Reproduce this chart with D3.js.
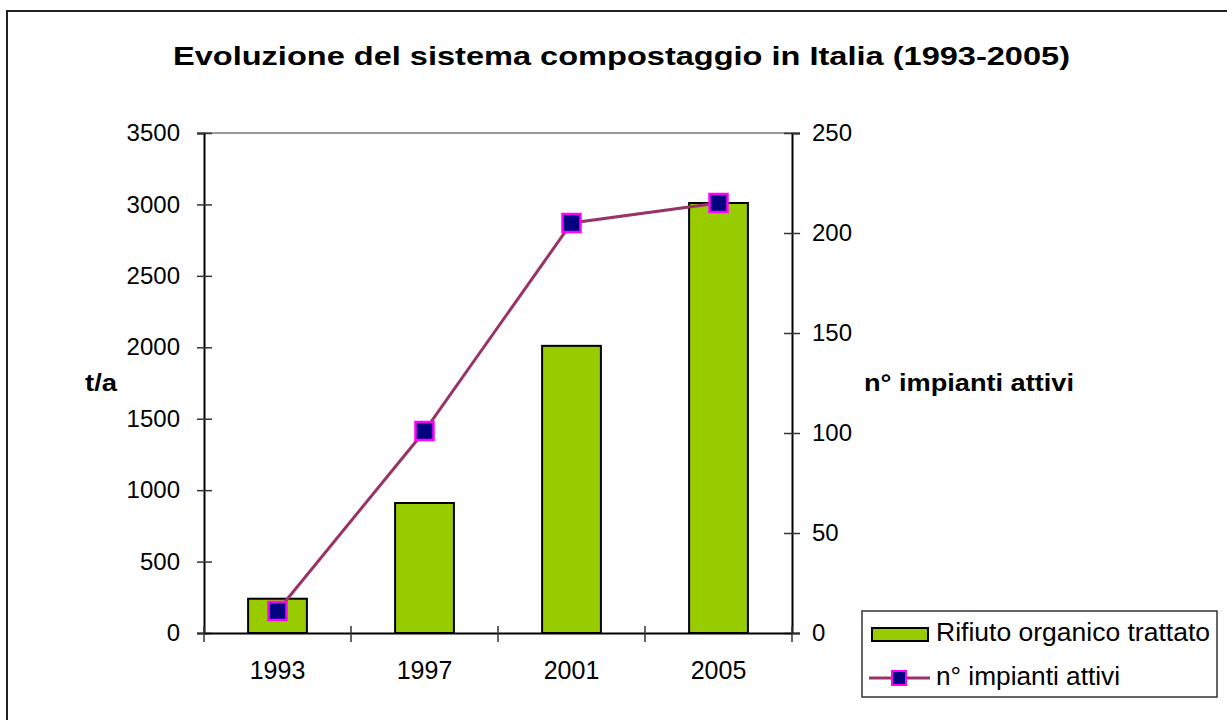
<!DOCTYPE html>
<html>
<head>
<meta charset="utf-8">
<script src="https://cdn.jsdelivr.net/npm/d3@7"></script>
<style>
  body { margin: 0; background: #fff; }
  svg { font-family: "Liberation Sans", Arial, sans-serif; }
</style>
</head>
<body>
<div id="chart"></div>
<script>
// data
let years = ["1993", "1997", "2001", "2005"];
let rifiuto = [240, 910, 2010, 3010];     // t/a, left axis
let impianti = [11, 101, 205, 215];       // n°, right axis
let leftTicks = [0, 500, 1000, 1500, 2000, 2500, 3000, 3500];
let rightTicks = [0, 50, 100, 150, 200, 250];

let width = 1227,
    height = 720;

let plot = {left: 204, right: 792, top: 133, bottom: 633};

let svg = d3.select("#chart").append("svg")
    .attr("width", width)
    .attr("height", height);

svg.append("rect")
    .attr("width", width)
    .attr("height", height)
    .attr("fill", "#fff");

// outer frame (runs off the right and bottom edge)
svg.append("rect")
    .attr("x", 7)
    .attr("y", 11)
    .attr("width", width + 20)
    .attr("height", height + 20)
    .attr("fill", "none")
    .attr("stroke", "#222")
    .attr("stroke-width", 2);

// the original text is stretched sideways, so fit it with textLength
svg.append("text")
    .attr("x", 173)
    .attr("y", 65)
    .attr("font-size", 26)
    .attr("font-weight", "bold")
    .attr("textLength", 897)
    .attr("lengthAdjust", "spacingAndGlyphs")
    .text("Evoluzione del sistema compostaggio in Italia (1993-2005)");

let x = d3.scaleBand()
    .domain(years)
    .range([plot.left, plot.right])
    .paddingInner(0.6)
    .paddingOuter(0.3);

let yLeft = d3.scaleLinear()
    .domain([0, 3500])
    .range([plot.bottom, plot.top]);

let yRight = d3.scaleLinear()
    .domain([0, 250])
    .range([plot.bottom, plot.top]);

// top border of the plot area
svg.append("line")
    .attr("x1", plot.left).attr("x2", plot.right)
    .attr("y1", plot.top).attr("y2", plot.top)
    .attr("stroke", "#777")
    .attr("stroke-width", 1.5);

// bars
svg.append("g")
    .selectAll("rect")
    .data(rifiuto)
    .enter()
    .append("rect")
    .attr("x", (d, i) => x(years[i]))
    .attr("y", d => yLeft(d))
    .attr("width", x.bandwidth())
    .attr("height", d => yLeft(0) - yLeft(d))
    .attr("fill", "#99CC00")
    .attr("stroke", "#000")
    .attr("stroke-width", 2);

let styleTicks = (sel) => {
    sel.selectAll(".tick text")
        .attr("font-size", 24)
        .attr("font-family", "Liberation Sans, Arial, sans-serif")
        .attr("fill", "#000");
};

// left axis
let leftAxis = svg.append("g")
    .attr("transform", `translate(${plot.left},0)`)
    .call(d3.axisLeft(yLeft).tickValues(leftTicks).tickFormat(d3.format("d")).tickSize(7).tickPadding(17));
leftAxis.select(".domain").attr("stroke", "#000").attr("stroke-width", 2);
leftAxis.selectAll(".tick line").attr("x1", 8).attr("stroke", "#333").attr("stroke-width", 1.5);
styleTicks(leftAxis);

// right axis
let rightAxis = svg.append("g")
    .attr("transform", `translate(${plot.right},0)`)
    .call(d3.axisRight(yRight).tickValues(rightTicks).tickFormat(d3.format("d")).tickSize(8).tickPadding(12));
rightAxis.select(".domain").attr("stroke", "#000").attr("stroke-width", 2);
rightAxis.selectAll(".tick line").attr("x1", -8).attr("stroke", "#333").attr("stroke-width", 1.5);
styleTicks(rightAxis);

// bottom axis: labels under the categories, ticks between them
let bottomAxis = svg.append("g")
    .attr("transform", `translate(0,${plot.bottom})`)
    .call(d3.axisBottom(x).tickSize(0).tickPadding(28));
bottomAxis.select(".domain").attr("stroke", "#000").attr("stroke-width", 2);
styleTicks(bottomAxis);
bottomAxis.selectAll(".tick text").attr("font-size", 25);

let bounds = d3.range(years.length + 1).map(i => plot.left + i * x.step());
bottomAxis.selectAll(".sep")
    .data(bounds)
    .enter()
    .append("line")
    .attr("x1", d => d).attr("x2", d => d)
    .attr("y1", -7).attr("y2", 9)
    .attr("stroke", "#333")
    .attr("stroke-width", 1.5);

// axis titles
svg.append("text")
    .attr("x", 85)
    .attr("y", 391)
    .attr("font-size", 23)
    .attr("font-weight", "bold")
    .attr("textLength", 32)
    .attr("lengthAdjust", "spacingAndGlyphs")
    .text("t/a");

svg.append("text")
    .attr("x", 864)
    .attr("y", 391)
    .attr("font-size", 23)
    .attr("font-weight", "bold")
    .attr("textLength", 210)
    .attr("lengthAdjust", "spacingAndGlyphs")
    .text("n° impianti attivi");

// line series
let line = d3.line()
    .x((d, i) => x(years[i]) + x.bandwidth() / 2)
    .y(d => yRight(d));

svg.append("path")
    .datum(impianti)
    .attr("d", line)
    .attr("fill", "none")
    .attr("stroke", "#993366")
    .attr("stroke-width", 3);

svg.append("g")
    .selectAll("rect")
    .data(impianti)
    .enter()
    .append("rect")
    .attr("x", (d, i) => x(years[i]) + x.bandwidth() / 2 - 9)
    .attr("y", d => yRight(d) - 9)
    .attr("width", 18)
    .attr("height", 18)
    .attr("fill", "#000080")
    .attr("stroke", "#FF00FF")
    .attr("stroke-width", 2.5);

// legend
let legend = svg.append("g");
legend.append("rect")
    .attr("x", 862).attr("y", 611)
    .attr("width", 355).attr("height", 86)
    .attr("fill", "#fff")
    .attr("stroke", "#333")
    .attr("stroke-width", 1.5);

legend.append("rect")
    .attr("x", 872).attr("y", 628)
    .attr("width", 56).attr("height", 13)
    .attr("fill", "#99CC00")
    .attr("stroke", "#000")
    .attr("stroke-width", 2);

legend.append("text")
    .attr("x", 936).attr("y", 641)
    .attr("font-size", 25)
    .attr("textLength", 274)
    .attr("lengthAdjust", "spacingAndGlyphs")
    .text("Rifiuto organico trattato");

legend.append("line")
    .attr("x1", 869).attr("x2", 930)
    .attr("y1", 678).attr("y2", 678)
    .attr("stroke", "#993366")
    .attr("stroke-width", 3);

legend.append("rect")
    .attr("x", 892).attr("y", 671)
    .attr("width", 14).attr("height", 14)
    .attr("fill", "#000080")
    .attr("stroke", "#FF00FF")
    .attr("stroke-width", 2);

legend.append("text")
    .attr("x", 936).attr("y", 685)
    .attr("font-size", 25)
    .attr("textLength", 184)
    .attr("lengthAdjust", "spacingAndGlyphs")
    .text("n° impianti attivi");
</script>
</body>
</html>
